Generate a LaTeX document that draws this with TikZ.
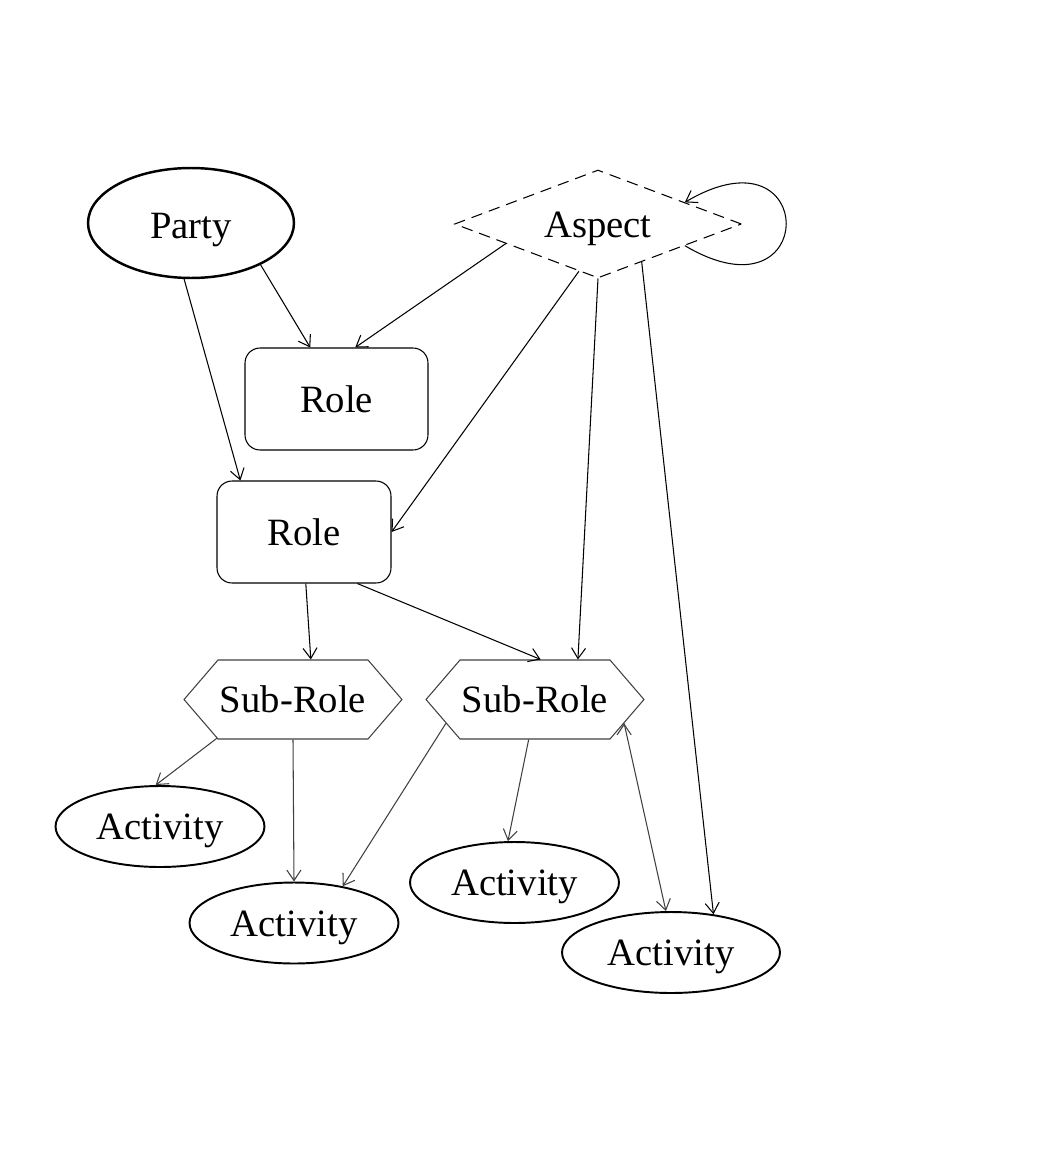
\documentclass[tikz,border=0pt]{standalone}
\usepackage{fontspec}
\setmainfont{Liberation Serif}
\usetikzlibrary{arrows.meta,shapes}

\begin{document}
\begin{tikzpicture}[x=0.02cm,y=-0.02cm,->,>={Straight Barb[length=6pt,width=8pt]},semithick,
            every node/.style={font=\fontsize{22}{26}\selectfont,inner sep=0pt,text height=15pt,text depth=0pt},
            partybox/.style={shape=ellipse,draw=black,line width=1.4pt,minimum width=4.12cm,minimum height=2.2cm,text height=18pt},
            aspectbox/.style={shape=diamond,draw=black,dash pattern=on 6.5pt off 4pt,aspect=2.66,minimum width=5.74cm,minimum height=2.16cm},
            rolebox/.style={shape=rectangle,draw=black,rounded corners=0.3cm,minimum height=2.04cm},
            subrolebox/.style={shape=signal,signal to=west and east,signal pointer angle=98.6,draw=black!75,line width=0.6pt,minimum width=4.36cm,minimum height=1.58cm},
            activitybox/.style={shape=ellipse,draw=black,line width=1.1pt,minimum width=4.18cm,minimum height=1.62cm},
            grayedge/.style={draw=black!75}]
            \useasboundingbox (0,0) rectangle (1040,1176);
            \node[partybox](Party)at(191, 223){Party};
            \node[aspectbox](Aspect)at(598, 224){Aspect};
            \node[rolebox,minimum width=3.66cm](RoleA)at(336.5, 399){Role};
            \node[rolebox,minimum width=3.48cm](RoleB)at(304, 532){Role};
            \node[subrolebox](SubA)at(293, 699.5){Sub-Role};
            \node[subrolebox](SubB)at(535, 699.5){Sub-Role};
            \node[activitybox](ActA)at(160, 826.5){Activity};
            \node[activitybox](ActB)at(294, 923){Activity};
            \node[activitybox](ActC)at(514.5, 882.5){Activity};
            \node[activitybox,minimum width=4.36cm](ActD)at(671, 952.5){Activity};
            \path[](Party.-31) edge (RoleA.117.5)
            (Party.-97) edge (RoleB.141.4)
            (Aspect.192.7) edge (RoleA.70)
            (Aspect.-112.6) edge (RoleB.east)
            (Aspect.south) edge (SubB.43.9)
            (Aspect.-41.6) edge (ActD.42)
            (RoleB.-88) edge (SubA.66.7)
            (RoleB.-44) edge (SubB.82.8);
            \path[grayedge](SubA.207.8) edge (ActA.96)
            (SubA.south) edge (ActB.north)
            (SubB.195.4) edge (ActB.37.5)
            (SubB.261.4) edge (ActC.99)
            (SubB.-15.6) edge (ActD.97);
            \draw (Aspect.-14) .. controls +(135,80) and +(135,-80) .. (Aspect.14);
        \end{tikzpicture}
\end{document}
